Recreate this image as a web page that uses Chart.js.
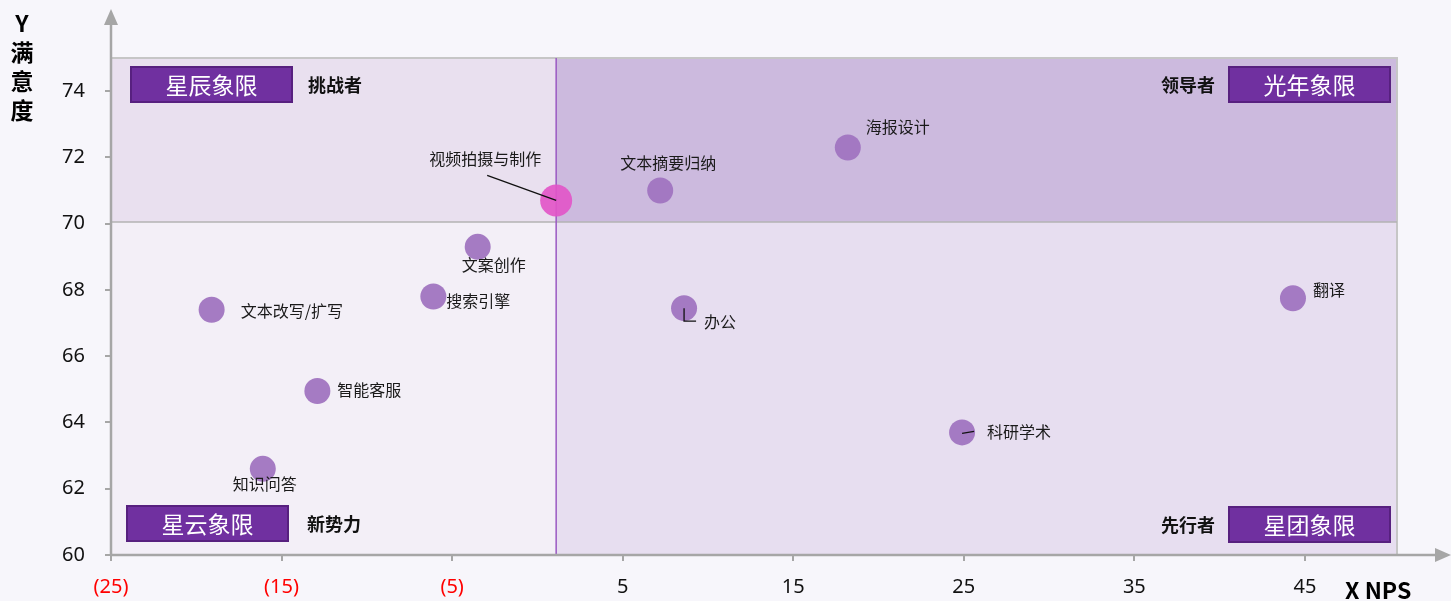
<!DOCTYPE html>
<html>
<head>
<meta charset="utf-8">
<script src="https://cdn.jsdelivr.net/npm/chart.js@4"></script>
<style>
  html, body { margin: 0; padding: 0; background: #f7f6fb; }
  #wrap { width: 1451px; height: 601px; }
</style>
</head>
<body>
<div id="wrap"><canvas id="quadChart" width="1451" height="601"></canvas></div>
<script>
// data
const appNames = ['视频拍摄与制作', '文本摘要归纳', '海报设计', '文案创作', '搜索引擎', '文本改写/扩写', '智能客服', '知识问答', '办公', '科研学术', '翻译'];
const npsValues = [1.1, 7.2, 18.2, -3.5, -6.1, -19.1, -12.9, -16.1, 8.6, 24.9, 44.3];
const satisfactionValues = [70.7, 71.0, 72.3, 69.3, 67.8, 67.4, 64.95, 62.6, 67.45, 63.7, 67.75];
const xTickValues = [-25, -15, -5, 5, 15, 25, 35, 45];
const yTickValues = [60, 62, 64, 66, 68, 70, 72, 74];
const xMin = -25, xMax = 50.4;
const yMin = 60, yMax = 75;
const npsDivider = 1.1;
const satisfactionDivider = 70.05;
const quadrantNames = ['星辰象限', '光年象限', '星云象限', '星团象限'];
const quadrantRoles = ['挑战者', '领导者', '新势力', '先行者'];

// where each label sits relative to its point (px), plus optional leader lines
const labelPlace = {
  '视频拍摄与制作': { dx: -71, dy: -42, align: 'center', leader: [[-69, -25], [0, 0]] },
  '文本摘要归纳': { dx: 8, dy: -28, align: 'center' },
  '海报设计': { dx: 18, dy: -21, align: 'left' },
  '文案创作': { dx: 16, dy: 18, align: 'center' },
  '搜索引擎': { dx: 13, dy: 4, align: 'left' },
  '文本改写/扩写': { dx: 29, dy: 1, align: 'left' },
  '智能客服': { dx: 20, dy: -1, align: 'left' },
  '知识问答': { dx: 2, dy: 15, align: 'center' },
  '办公': { dx: 20, dy: 14, align: 'left', leader: [[0, 0], [0, 13], [12, 13]] },
  '科研学术': { dx: 25, dy: 0, align: 'left', leader: [[0, 1], [12, -1]] },
  '翻译': { dx: 20, dy: -8, align: 'left' }
};

const cjk = '"Noto Sans CJK SC", "Noto Sans", sans-serif';
const axisGrey = '#a6a6a6';

const quadrantPlugin = {
  id: 'quadrants',
  beforeDatasetsDraw(chart) {
    const { ctx, chartArea: a, scales: { x, y } } = chart;
    const mx = x.getPixelForValue(npsDivider);
    const my = y.getPixelForValue(satisfactionDivider);
    ctx.save();
    ctx.fillStyle = '#e9e0ef'; ctx.fillRect(a.left, a.top, mx - a.left, my - a.top);
    ctx.fillStyle = '#ccbade'; ctx.fillRect(mx, a.top, a.right - mx, my - a.top);
    ctx.fillStyle = '#f3eff7'; ctx.fillRect(a.left, my, mx - a.left, a.bottom - my);
    ctx.fillStyle = '#e7def0'; ctx.fillRect(mx, my, a.right - mx, a.bottom - my);

    // box outline top/right
    ctx.strokeStyle = '#c6c6c6';
    ctx.lineWidth = 2;
    ctx.beginPath();
    ctx.moveTo(a.left, a.top); ctx.lineTo(a.right, a.top); ctx.lineTo(a.right, a.bottom);
    ctx.stroke();

    // dividers
    ctx.strokeStyle = '#b3b3b3';
    ctx.lineWidth = 1.5;
    ctx.beginPath(); ctx.moveTo(a.left, my); ctx.lineTo(a.right, my); ctx.stroke();
    ctx.strokeStyle = '#9a58c2';
    ctx.beginPath(); ctx.moveTo(mx, a.top); ctx.lineTo(mx, a.bottom); ctx.stroke();
    ctx.restore();
  },
  afterDatasetsDraw(chart) {
    const { ctx, chartArea: a } = chart;
    const meta = chart.getDatasetMeta(0);
    ctx.save();

    // point labels
    ctx.font = '16px ' + cjk;
    ctx.fillStyle = '#1a1a1a';
    ctx.textBaseline = 'middle';
    meta.data.forEach((pt, i) => {
      const p = labelPlace[appNames[i]];
      if (p.leader) {
        ctx.strokeStyle = '#111';
        ctx.lineWidth = 1.3;
        ctx.beginPath();
        p.leader.forEach(([lx, ly], k) => {
          if (k === 0) ctx.moveTo(pt.x + lx, pt.y + ly); else ctx.lineTo(pt.x + lx, pt.y + ly);
        });
        ctx.stroke();
      }
      ctx.textAlign = p.align;
      ctx.fillText(appNames[i], pt.x + p.dx, pt.y + p.dy);
    });

    // quadrant tags
    const boxW = 161, boxH = 35;
    const tags = [
      { bx: a.left + 20, by: a.top + 9, rx: a.left + 197, ra: 'left' },
      { bx: a.right - 168, by: a.top + 9, rx: a.right - 182, ra: 'right' },
      { bx: a.left + 16, by: a.bottom - 49, rx: a.left + 196, ra: 'left' },
      { bx: a.right - 168, by: a.bottom - 48, rx: a.right - 182, ra: 'right' }
    ];
    tags.forEach((t, i) => {
      ctx.fillStyle = '#7030a0';
      ctx.fillRect(t.bx, t.by, boxW, boxH);
      ctx.strokeStyle = '#57207f';
      ctx.lineWidth = 2;
      ctx.strokeRect(t.bx, t.by, boxW, boxH);
      ctx.fillStyle = '#ffffff';
      ctx.font = '23px ' + cjk;
      ctx.textAlign = 'center';
      ctx.fillText(quadrantNames[i], t.bx + boxW / 2, t.by + boxH / 2 + 1);
      ctx.fillStyle = '#111';
      ctx.font = 'bold 18px ' + cjk;
      ctx.textAlign = t.ra;
      ctx.fillText(quadrantRoles[i], t.rx, t.by + boxH / 2 + 1);
    });
    ctx.restore();
  },
  afterDraw(chart) {
    const { ctx, chartArea: a } = chart;
    ctx.save();
    // axes with arrows
    ctx.strokeStyle = axisGrey;
    ctx.fillStyle = axisGrey;
    ctx.lineWidth = 2.5;
    ctx.beginPath();
    ctx.moveTo(a.left, a.bottom); ctx.lineTo(a.left, 22);
    ctx.moveTo(a.left, a.bottom); ctx.lineTo(1440, a.bottom);
    ctx.stroke();
    ctx.beginPath();
    ctx.moveTo(a.left, 9); ctx.lineTo(a.left - 7, 25); ctx.lineTo(a.left + 7, 25); ctx.closePath();
    ctx.fill();
    ctx.beginPath();
    ctx.moveTo(1451, a.bottom); ctx.lineTo(1435, a.bottom - 7); ctx.lineTo(1435, a.bottom + 7); ctx.closePath();
    ctx.fill();

    // axis titles
    ctx.fillStyle = '#000';
    ctx.font = 'bold 23px ' + cjk;
    ctx.textAlign = 'center';
    ctx.textBaseline = 'middle';
    ['Y', '满', '意', '度'].forEach((ch, i) => ctx.fillText(ch, 22, 23 + i * 29));
    ctx.textAlign = 'left';
    ctx.fillText('X NPS', 1345, 590);
    ctx.restore();
  }
};

new Chart(document.getElementById('quadChart'), {
  type: 'scatter',
  data: {
    datasets: [{
      label: '满意度',
      data: appNames.map((n, i) => ({ x: npsValues[i], y: satisfactionValues[i] })),
      backgroundColor: appNames.map((n, i) => i === 0 ? 'rgba(226, 86, 200, 0.92)' : 'rgba(160, 116, 192, 0.95)'),
      borderWidth: 0,
      pointRadius: appNames.map((n, i) => i === 0 ? 16 : 13),
      pointHoverRadius: appNames.map((n, i) => i === 0 ? 16 : 13)
    }]
  },
  options: {
    responsive: false,
    animation: false,
    layout: { padding: { left: 0, top: 58, right: 54, bottom: 0 } },
    plugins: {
      legend: { display: false },
      tooltip: { enabled: false }
    },
    scales: {
      x: {
        type: 'linear',
        min: xMin,
        max: xMax,
        afterBuildTicks: s => { s.ticks = xTickValues.map(v => ({ value: v })); },
        afterFit: s => { s.height = 46; },
        border: { display: false },
        grid: { drawOnChartArea: false, drawTicks: true, tickLength: 6, color: axisGrey, lineWidth: 2 },
        ticks: {
          padding: 14,
          font: { size: 20, family: '"Noto Sans", sans-serif' },
          color: c => c.tick && c.tick.value < 0 ? '#ff0000' : '#111',
          callback: v => v < 0 ? '(' + Math.abs(v) + ')' : String(v)
        }
      },
      y: {
        type: 'linear',
        min: yMin,
        max: yMax,
        afterBuildTicks: s => { s.ticks = yTickValues.map(v => ({ value: v })); },
        afterFit: s => { s.width = 111; },
        border: { display: false },
        grid: { drawOnChartArea: false, drawTicks: true, tickLength: 6, color: axisGrey, lineWidth: 2 },
        ticks: {
          padding: 20,
          font: { size: 20, family: '"Noto Sans", sans-serif' },
          color: '#111'
        }
      }
    }
  },
  plugins: [quadrantPlugin]
});
</script>
</body>
</html>
